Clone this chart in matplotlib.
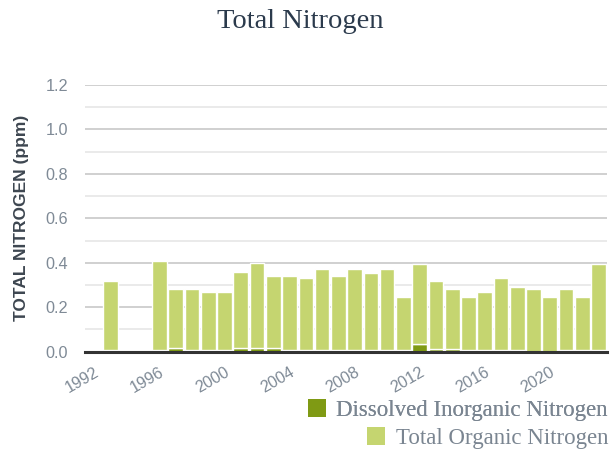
import matplotlib
matplotlib.use("Agg")
import matplotlib.pyplot as plt
from matplotlib.ticker import MultipleLocator
import numpy as np

years = [1993, 1996, 1997, 1998, 1999, 2000, 2001, 2002, 2003, 2004, 2005,
         2006, 2007, 2008, 2009, 2010, 2011, 2012, 2013, 2014, 2015, 2016,
         2017, 2018, 2019, 2020, 2021, 2022, 2023]
total = [0.32, 0.41, 0.28, 0.28, 0.27, 0.27, 0.36, 0.40, 0.34, 0.34, 0.33,
         0.37, 0.34, 0.37, 0.355, 0.37, 0.245, 0.395, 0.32, 0.28, 0.245, 0.27,
         0.33, 0.29, 0.28, 0.245, 0.28, 0.245, 0.395]
din = [0.006, 0.006, 0.015, 0.006, 0.006, 0.006, 0.015, 0.015, 0.015, 0.006, 0.006,
       0.006, 0.006, 0.006, 0.006, 0.006, 0.006, 0.035, 0.013, 0.013, 0.006, 0.006,
       0.006, 0.006, 0.0, 0.0, 0.006, 0.006, 0.006]
ton = [t - d for t, d in zip(total, din)]
xticks = [1992, 1996, 2000, 2004, 2008, 2012, 2016, 2020]

DIN_C = "#7f9a14"
TON_C = "#c5d570"
TICK_C = "#7f8a96"

fig = plt.figure(figsize=(6.10, 4.51), dpi=100)
ax = fig.add_axes([85/610, 1 - 351.7/451, (607-85)/610, (351.7-85)/451])

b1 = ax.bar(years, din, width=0.9, color=DIN_C, edgecolor="white", linewidth=1,
            label="Dissolved Inorganic Nitrogen", zorder=3)
b2 = ax.bar(years, ton, bottom=din, width=0.9, color=TON_C, edgecolor="white",
            linewidth=1, label="Total Organic Nitrogen", zorder=3)

ax.set_xlim(1991.42, 2023.52)
ax.set_ylim(0, 1.2)
ax.yaxis.set_major_locator(MultipleLocator(0.2))
ax.yaxis.set_minor_locator(MultipleLocator(0.1))
ax.grid(axis="y", which="major", color="#c8c8c8", linewidth=1.2, zorder=0)
ax.grid(axis="y", which="minor", color="#e6e6e6", linewidth=1.2, zorder=0)
ax.set_axisbelow(True)
for s in ["top", "right", "left"]:
    ax.spines[s].set_visible(False)
ax.spines["bottom"].set_color("#333333")
ax.spines["bottom"].set_linewidth(2.2)
ax.spines["bottom"].set_zorder(4)

ax.set_xticks(xticks)
ax.set_xticklabels([str(y) for y in xticks], rotation=30, ha="right",
                   rotation_mode="anchor", color=TICK_C, fontsize=11.7,
                   family="Liberation Sans")
ax.tick_params(axis="x", length=0, pad=9)
ax.tick_params(axis="y", which="both", length=0, pad=12, labelcolor=TICK_C,
               labelsize=11.7)
ax.set_yticks([0, 0.2, 0.4, 0.6, 0.8, 1.0, 1.2])
ax.set_yticklabels(["0.0", "0.2", "0.4", "0.6", "0.8", "1.0", "1.2"],
                   family="Liberation Sans")

ax.set_ylabel("TOTAL NITROGEN (ppm)", fontsize=12.5, fontweight="bold",
              color="#3d4650", family="Liberation Sans", labelpad=12)

fig.text(300/610, 1 - 22/451, "Total Nitrogen", ha="center", va="center",
         fontsize=20.5, color="#2b3a4c", family="Liberation Serif")

legs = []
for handle, ycen in [(b1, 410), (b2, 438)]:
    lg = fig.legend(handles=[handle], loc="center right",
                    bbox_to_anchor=(608/610, 1 - ycen/451), frameon=False,
                    prop={"family": "Liberation Serif", "size": 16.5},
                    handlelength=0.79, handleheight=0.79, handletextpad=0.44,
                    borderpad=0.0, borderaxespad=0.0)
    for t in lg.get_texts():
        t.set_color("#7a8591")
    for h in lg.legend_handles:
        h.set_edgecolor("none")
    legs.append(lg)
for lg in legs[:-1]:
    fig.add_artist(lg)

fig.savefig("out.png", dpi=100)
